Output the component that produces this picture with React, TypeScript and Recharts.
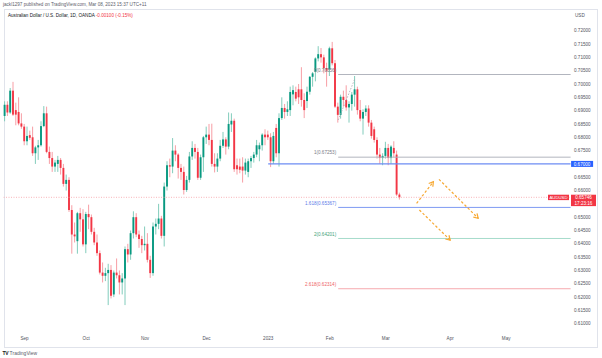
import { ComposedChart, Bar, XAxis, YAxis, ReferenceLine } from 'recharts'

const FONT = '"Liberation Sans", Arial, sans-serif'
const UP = '#089981'
const DOWN = '#f23645'
const UP_WICK = '#74c6b4'
const DOWN_WICK = '#f6939b'

// AUD/USD daily, OANDA — 23 Aug 2022 .. 8 Mar 2023
const opens = [
  0.6880, 0.6922, 0.6893, 0.6975, 0.6902, 0.6895, 0.6852, 0.6840, 0.6785, 0.6808,
  0.6800, 0.6740, 0.6762, 0.6770, 0.6842, 0.6890, 0.6745, 0.6722, 0.6690, 0.6700,
  0.6715, 0.6685, 0.6625, 0.6640, 0.6527, 0.6435, 0.6410, 0.6515, 0.6492,
  0.6398, 0.6512, 0.6500, 0.6445, 0.6405, 0.6365, 0.6292, 0.6280, 0.6290, 0.6302,
  0.6210, 0.6292, 0.6282, 0.6255, 0.6270, 0.6380, 0.6360, 0.6440, 0.6500, 0.6435, 0.6418,
  0.6395, 0.6400, 0.6340, 0.6290, 0.6465, 0.6475, 0.6495, 0.6430, 0.6615, 0.6695,
  0.6690, 0.6750, 0.6735, 0.6685, 0.6670, 0.6602, 0.6640, 0.6728, 0.6760, 0.6745, 0.6648, 0.6725,
  0.6800, 0.6810, 0.6790, 0.6700, 0.6690, 0.6720, 0.6768, 0.6792, 0.6765, 0.6848,
  0.6862, 0.6695, 0.6690, 0.6690, 0.6675, 0.6670, 0.6710, 0.6722, 0.6735, 0.6755, 0.6770, 0.6810,
  0.6810, 0.6800, 0.6710, 0.6835, 0.6740, 0.6872, 0.6910, 0.6895, 0.6902, 0.6961,
  0.6970, 0.6980, 0.6980, 0.6940, 0.6936, 0.6971, 0.7027, 0.7046, 0.7096, 0.7112, 0.7100, 0.7060,
  0.7055, 0.7134, 0.7078, 0.6915, 0.6884, 0.6952, 0.6940, 0.6912, 0.6925, 0.6960,
  0.6980, 0.6902, 0.6870, 0.6895, 0.6908, 0.6855, 0.6830, 0.6790, 0.6735, 0.6722,
  0.6730, 0.6760, 0.6722, 0.6760, 0.6735, 0.6585,
]
const highs = [
  0.6935, 0.6935, 0.6985, 0.7008, 0.6930, 0.6950, 0.6890, 0.6850, 0.6840, 0.6825,
  0.6840, 0.6768, 0.6790, 0.6860, 0.6917, 0.6915, 0.6765, 0.6745, 0.6715, 0.6730,
  0.6722, 0.6700, 0.6660, 0.6650, 0.6545, 0.6480, 0.6520, 0.6535, 0.6530,
  0.6520, 0.6547, 0.6510, 0.6460, 0.6435, 0.6375, 0.6330, 0.6310, 0.6325, 0.6320,
  0.6300, 0.6345, 0.6300, 0.6290, 0.6390, 0.6400, 0.6450, 0.6522, 0.6515, 0.6450, 0.6430,
  0.6465, 0.6440, 0.6355, 0.6480, 0.6495, 0.6550, 0.6505, 0.6630, 0.6710, 0.6720,
  0.6797, 0.6770, 0.6740, 0.6700, 0.6690, 0.6655, 0.6745, 0.6785, 0.6775, 0.6760, 0.6735, 0.6805,
  0.6840, 0.6850, 0.6851, 0.6740, 0.6740, 0.6790, 0.6820, 0.6800, 0.6893, 0.6890,
  0.6870, 0.6720, 0.6720, 0.6725, 0.6720, 0.6720, 0.6730, 0.6745, 0.6790, 0.6780, 0.6815, 0.6830,
  0.6825, 0.6815, 0.6820, 0.6850, 0.6890, 0.6950, 0.6925, 0.6935, 0.6990, 0.6995,
  0.6990, 0.7000, 0.7063, 0.6965, 0.6990, 0.7030, 0.7045, 0.7100, 0.7142, 0.7135, 0.7110, 0.7080,
  0.7140, 0.7158, 0.7090, 0.6930, 0.6960, 0.6975, 0.6995, 0.6935, 0.6970, 0.7030,
  0.6990, 0.6940, 0.6905, 0.6920, 0.6920, 0.6865, 0.6840, 0.6800, 0.6760, 0.6740,
  0.6783, 0.6775, 0.6770, 0.6785, 0.6750, 0.6592,
]
const lows = [
  0.6860, 0.6880, 0.6888, 0.6880, 0.6845, 0.6845, 0.6832, 0.6770, 0.6770, 0.6790,
  0.6730, 0.6700, 0.6715, 0.6765, 0.6838, 0.6740, 0.6700, 0.6670, 0.6670, 0.6670,
  0.6660, 0.6615, 0.6600, 0.6520, 0.6363, 0.6405, 0.6363, 0.6445, 0.6390,
  0.6365, 0.6455, 0.6435, 0.6395, 0.6355, 0.6285, 0.6255, 0.6260, 0.6170, 0.6195,
  0.6200, 0.6270, 0.6210, 0.6210, 0.6170, 0.6330, 0.6340, 0.6420, 0.6425, 0.6385, 0.6365,
  0.6375, 0.6330, 0.6272, 0.6280, 0.6435, 0.6455, 0.6420, 0.6390, 0.6600, 0.6650,
  0.6665, 0.6710, 0.6645, 0.6640, 0.6585, 0.6595, 0.6630, 0.6715, 0.6720, 0.6640, 0.6640, 0.6670,
  0.6775, 0.6770, 0.6690, 0.6668, 0.6670, 0.6710, 0.6760, 0.6735, 0.6755, 0.6820,
  0.6670, 0.6660, 0.6665, 0.6630, 0.6660, 0.6650, 0.6685, 0.6705, 0.6725, 0.6710, 0.6750, 0.6770,
  0.6790, 0.6688, 0.6700, 0.6725, 0.6690, 0.6865, 0.6870, 0.6880, 0.6880, 0.6920,
  0.6935, 0.6925, 0.6915, 0.6872, 0.6910, 0.6960, 0.6990, 0.7010, 0.7085, 0.7080, 0.7040, 0.6990,
  0.7030, 0.7070, 0.6910, 0.6855, 0.6870, 0.6915, 0.6900, 0.6855, 0.6900, 0.6915,
  0.6885, 0.6860, 0.6810, 0.6880, 0.6840, 0.6795, 0.6780, 0.6720, 0.6700, 0.6695,
  0.6720, 0.6695, 0.6700, 0.6725, 0.6580, 0.6566,
]
const closes = [
  0.6922, 0.6893, 0.6975, 0.6885, 0.6885, 0.6852, 0.6840, 0.6785, 0.6805, 0.6798,
  0.6740, 0.6762, 0.6770, 0.6842, 0.6890, 0.6745, 0.6722, 0.6690, 0.6705, 0.6715,
  0.6685, 0.6625, 0.6640, 0.6527, 0.6435, 0.6428, 0.6515, 0.6492, 0.6398,
  0.6512, 0.6500, 0.6445, 0.6405, 0.6365, 0.6292, 0.6280, 0.6290, 0.6302, 0.6205,
  0.6292, 0.6282, 0.6255, 0.6270, 0.6380, 0.6360, 0.6440, 0.6500, 0.6435, 0.6418, 0.6395,
  0.6400, 0.6340, 0.6290, 0.6465, 0.6475, 0.6495, 0.6430, 0.6615, 0.6695, 0.6690,
  0.6750, 0.6735, 0.6685, 0.6670, 0.6602, 0.6640, 0.6728, 0.6760, 0.6745, 0.6648, 0.6725, 0.6800,
  0.6810, 0.6790, 0.6700, 0.6690, 0.6720, 0.6768, 0.6792, 0.6765, 0.6850, 0.6862,
  0.6680, 0.6680, 0.6678, 0.6675, 0.6705, 0.6710, 0.6722, 0.6735, 0.6770, 0.6770, 0.6810, 0.6800,
  0.6800, 0.6710, 0.6805, 0.6740, 0.6872, 0.6910, 0.6895, 0.6905, 0.6970, 0.6977,
  0.6945, 0.6950, 0.6940, 0.6902, 0.6971, 0.7027, 0.7040, 0.7096, 0.7112, 0.7100, 0.7060, 0.7050,
  0.7134, 0.7078, 0.6915, 0.6884, 0.6952, 0.6940, 0.6912, 0.6925, 0.6960, 0.6980,
  0.6902, 0.6870, 0.6895, 0.6908, 0.6855, 0.6805, 0.6790, 0.6735, 0.6722, 0.6730,
  0.6760, 0.6722, 0.6765, 0.6740, 0.6585, 0.65746,
]

// bar slots on the time axis (trading days incl. empty space to the right)
const SLOTS = 203
const monthTicks = [7, 29, 50, 72, 94, 116, 136, 159, 179]
const monthLabels = ['Sep', 'Oct', 'Nov', 'Dec', '2023', 'Feb', 'Mar', 'Apr', 'May']
// 0.655 and 0.670 sit under the price tags, so they are left out
const priceTicks = [
  0.61, 0.615, 0.62, 0.625, 0.63, 0.635, 0.64, 0.645, 0.65, 0.66, 0.665,
  0.675, 0.68, 0.685, 0.69, 0.695, 0.7, 0.705, 0.71, 0.715, 0.72,
]

// fib extension drawn from bar 119 to the right edge
const fibLevels = [
  { label: '0(0.70356)', price: 0.70356, line: '#b2b5be', text: '#787b86' },
  { label: '1(0.67253)', price: 0.67253, line: '#b2b5be', text: '#787b86' },
  { label: '1.618(0.65367)', price: 0.65367, line: '#7f9af2', text: '#5b7be8' },
  { label: '2(0.64201)', price: 0.64201, line: '#a6dccb', text: '#3fa37a' },
  { label: '2.618(0.62314)', price: 0.62314, line: '#f6a9ae', text: '#ee5f69' },
]
const fibStart = 119
const supportLevel = 0.67
const supportStart = 94
const lastPrice = 0.65746

const arrows = [
  { from: [147, 0.6552], to: [153, 0.6633] },
  { from: [155, 0.6642], to: [169, 0.6496] },
  { from: [148, 0.6527], to: [159, 0.6414] },
]
const fibGuide = [
  [119, 0.6865],
  [125, 0.7021],
]

const rows = Array.from({ length: SLOTS }, (_, i) =>
  i < closes.length
    ? { i, o: opens[i], h: highs[i], l: lows[i], c: closes[i], range: [lows[i], highs[i]] }
    : { i },
)

function Candle(props: any) {
  const { x, y, width, height, payload } = props
  if (!payload || payload.o == null || x == null || y == null) return null
  const { o, h, l, c } = payload
  const up = c >= o
  const top = Math.min(y, y + height)
  const span = Math.abs(height)
  const ratio = h - l > 0 ? span / (h - l) : 0
  const yOf = (p: number) => top + (h - p) * ratio
  const cx = x + width / 2
  const bTop = yOf(Math.max(o, c))
  const bBot = yOf(Math.min(o, c))
  return (
    <g>
      <line x1={cx} x2={cx} y1={top} y2={top + span} stroke={up ? UP_WICK : DOWN_WICK} strokeWidth={0.9} />
      <rect x={cx - 0.95} y={bTop} width={1.9} height={Math.max(bBot - bTop, 0.6)} fill={up ? UP : DOWN} />
    </g>
  )
}

const levelShape = (label: string, line: string, text: string) => (p: any) => {
  const left = Math.min(p.x1, p.x2)
  return (
    <g>
      <line x1={p.x1} y1={p.y1} x2={p.x2} y2={p.y2} stroke={line} strokeWidth={1} />
      <text x={left - 2} y={p.y1 - 4.3} dy="0.35em" textAnchor="end" fontSize={4.6} fontFamily={FONT} fill={text}>
        {label}
      </text>
    </g>
  )
}

function SupportShape(p: any) {
  const right = Math.max(p.x1, p.x2)
  return (
    <g>
      <line x1={p.x1} y1={p.y1} x2={p.x2} y2={p.y2} stroke="#6d8cf3" strokeWidth={1.4} />
      <rect x={right + 0.5} y={p.y2 - 3} width={22} height={6} fill="#2962ff" />
      <text x={right + 11.5} y={p.y2} dy="0.35em" textAnchor="middle" fontSize={4.6} fontFamily={FONT} fill="#fff">
        {supportLevel.toFixed(5)}
      </text>
    </g>
  )
}

function LastPriceShape(p: any) {
  const right = Math.max(p.x1, p.x2)
  return (
    <g>
      <line x1={p.x1} y1={p.y1} x2={p.x2} y2={p.y2} stroke="#f6a1a8" strokeWidth={0.8} strokeDasharray="1 1.5" />
      <rect x={right - 24} y={p.y1 - 2.6} width={21} height={5.4} fill={DOWN} />
      <text x={right - 13.5} y={p.y1 + 0.1} dy="0.35em" textAnchor="middle" fontSize={4.3} fontFamily={FONT} fill="#fff">
        AUDUSD
      </text>
      <rect x={right - 1} y={p.y1 - 2.6} width={25} height={11.4} fill={DOWN} />
      <text x={right + 11.5} y={p.y1 + 0.2} dy="0.35em" textAnchor="middle" fontSize={4.6} fontFamily={FONT} fill="#fff">
        {lastPrice.toFixed(5)}
      </text>
      <text x={right + 11.5} y={p.y1 + 5.6} dy="0.35em" textAnchor="middle" fontSize={4.6} fontFamily={FONT} fill="#fff">
        17:23:16
      </text>
    </g>
  )
}

function ArrowShape(p: any) {
  const { x1, y1, x2, y2 } = p
  const a = Math.atan2(y2 - y1, x2 - x1)
  const L = 5
  const ax = x2 - L * Math.cos(a - 0.55)
  const ay = y2 - L * Math.sin(a - 0.55)
  const bx = x2 - L * Math.cos(a + 0.55)
  const by = y2 - L * Math.sin(a + 0.55)
  return (
    <g stroke="#f7a934" strokeWidth={1.2} fill="none">
      <line x1={x1} y1={y1} x2={x2} y2={y2} strokeDasharray="2.5 2" />
      <polyline points={`${ax},${ay} ${x2},${y2} ${bx},${by}`} />
    </g>
  )
}

function GuideShape(p: any) {
  return <line x1={p.x1} y1={p.y1} x2={p.x2} y2={p.y2} stroke="#a3a6af" strokeWidth={0.8} strokeDasharray="1.5 1.5" />
}

const smallText = { fontSize: 4.6, fill: '#50535e', fontFamily: FONT }

export default function App() {
  return (
    <div style={{ position: 'fixed', left: 0, top: 0, width: 602, height: 358, background: '#fff', fontFamily: FONT }}>
      <div style={{ position: 'absolute', left: 3, top: 1.8, fontSize: 4.6, lineHeight: '5px', color: '#5d606b', whiteSpace: 'nowrap' }}>
        jackl1297 published on TradingView.com, Mar 08, 2023 15:37 UTC+11
      </div>
      <div style={{ position: 'absolute', left: 4, top: 9, width: 594, height: 339, border: '1px solid #e0e3eb', boxSizing: 'border-box' }} />
      <div style={{ position: 'absolute', left: 8, top: 13.3, fontSize: 4.6, lineHeight: '5px', color: '#131722', whiteSpace: 'nowrap' }}>
        Australian Dollar / U.S. Dollar, 1D, OANDA <span style={{ color: DOWN }}>-0.00100 (-0.15%)</span>
      </div>
      <div style={{ position: 'absolute', left: 575, top: 13.2, fontSize: 4.6, lineHeight: '5px', color: '#50535e' }}>USD</div>
      <div style={{ position: 'absolute', left: 0, top: 0 }}>
        <ComposedChart width={602} height={358} data={rows} margin={{ top: 17.4, right: 0, bottom: 7.6, left: 3.6 }}>
          <XAxis
            dataKey="i"
            type="category"
            ticks={monthTicks}
            interval={0}
            tickFormatter={(v) => monthLabels[monthTicks.indexOf(v)] ?? ''}
            axisLine={false}
            tickLine={false}
            tickSize={0}
            tickMargin={6}
            height={20}
            tick={smallText}
          />
          <YAxis
            orientation="right"
            type="number"
            domain={[0.6075, 0.725]}
            allowDataOverflow
            ticks={priceTicks}
            interval={0}
            tickFormatter={(v) => Number(v).toFixed(5)}
            axisLine={false}
            tickLine={false}
            tickSize={0}
            tickMargin={2}
            width={30}
            tick={{ ...smallText, textAnchor: 'start' }}
          />
          <ReferenceLine y={lastPrice} shape={LastPriceShape} />
          {fibLevels.map((f) => (
            <ReferenceLine
              key={f.label}
              segment={[{ x: fibStart, y: f.price }, { x: SLOTS - 1, y: f.price }]}
              shape={levelShape(f.label, f.line, f.text)}
            />
          ))}
          <ReferenceLine
            segment={[{ x: supportStart, y: supportLevel }, { x: SLOTS - 1, y: supportLevel }]}
            shape={SupportShape}
          />
          <ReferenceLine
            segment={[{ x: fibGuide[0][0], y: fibGuide[0][1] }, { x: fibGuide[1][0], y: fibGuide[1][1] }]}
            shape={GuideShape}
          />
          <Bar dataKey="range" barSize={2} isAnimationActive={false} shape={(p: any) => <Candle {...p} />} />
          {arrows.map((a, k) => (
            <ReferenceLine
              key={k}
              segment={[{ x: a.from[0], y: a.from[1] }, { x: a.to[0], y: a.to[1] }]}
              shape={ArrowShape}
            />
          ))}
        </ComposedChart>
      </div>
      <div style={{ position: 'absolute', left: 2.5, top: 349.5, fontSize: 5, lineHeight: '6px', color: '#131722', whiteSpace: 'nowrap' }}>
        <b style={{ letterSpacing: -0.3 }}>TV</b> <span style={{ color: '#5d606b' }}>TradingView</span>
      </div>
    </div>
  )
}
